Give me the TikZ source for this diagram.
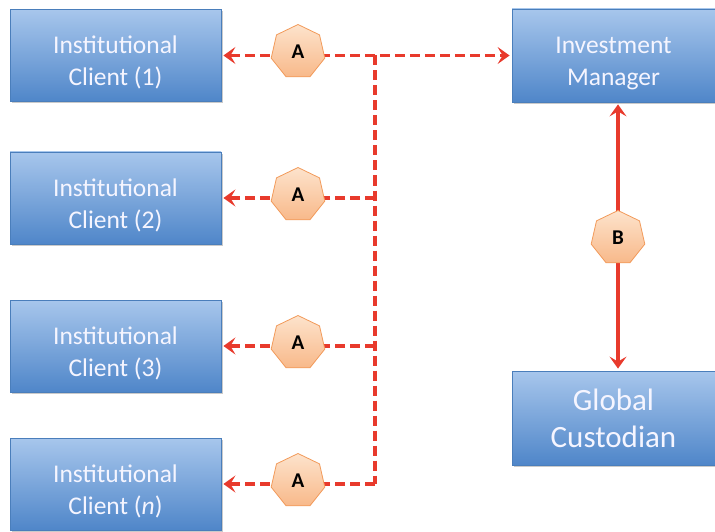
\documentclass[tikz,border=0pt]{standalone}
\usepackage{fontspec}
\setmainfont{Carlito}
\usetikzlibrary{shapes.geometric,arrows.meta,shadows,calc}
\definecolor{boxtop}{HTML}{A7C6EC}
\definecolor{boxbot}{HTML}{4F86C9}
\definecolor{boxedge}{HTML}{4A7EBB}
\definecolor{linkred}{HTML}{E83A2C}
\definecolor{tagtop}{HTML}{FDE3CC}
\definecolor{tagbot}{HTML}{F8B98A}
\definecolor{tagedge}{HTML}{F29A5A}
% invisible strut that sets the first text line a little lower in its box
\newcommand\padtop{\rule{0pt}{32pt}}
\tikzset{
  partybox/.style={draw=boxedge, line width=0.8pt, top color=boxtop, bottom color=boxbot,
    minimum width=211pt, minimum height=92pt, inner sep=0pt, align=center,
    text=white!96!blue,
    drop shadow={shadow xshift=1.5pt, shadow yshift=-2pt, opacity=0.35, fill=black!60}},
  party/.style={partybox, font=\fontsize{25.5}{32}\selectfont},
  bigparty/.style={partybox, minimum width=203pt, minimum height=94pt,
    font=\fontsize{31}{37}\selectfont},
  tag/.style={regular polygon, regular polygon sides=7, minimum size=55pt, inner sep=0pt,
    draw=tagedge, line width=0.8pt, top color=tagtop, bottom color=tagbot,
    font=\fontsize{21}{21}\selectfont\bfseries, text=black},
  dashlink/.style={draw=linkred, line width=3.6pt, dash pattern=on 10pt off 5pt},
  solidlink/.style={draw=linkred, line width=3.6pt},
  tip/.style={arrows={-{Stealth[length=12pt,width=17pt,inset=5pt]}}},
  tips/.style={arrows={{Stealth[length=12pt,width=17pt,inset=5pt]}-{Stealth[length=12pt,width=17pt,inset=5pt]}}}
}
\begin{document}
\begin{tikzpicture}[x=1pt,y=-1pt]
\useasboundingbox (0,0) rectangle (715,532);

% parties
\node[party] (c1) at (115.5,55.5) {\padtop Institutional\\Client (1)};
\node[party] (c2) at (115.5,198) {\padtop Institutional\\Client (2)};
\node[party] (c3) at (115.5,346) {\padtop Institutional\\Client (3)};
\node[party] (cn) at (115.5,484) {\padtop Institutional\\Client (\textit{n})};
\node[party, minimum width=203pt, minimum height=93pt] (im) at (613.5,55.5) {\padtop Investment\\Manager};
\node[bigparty] (gc) at (613.5,418) {Global\\Custodian};

% shared channel between the clients and the manager
\coordinate (j1) at (375,55.5);
\coordinate (jn) at (375,484);
\coordinate (j2) at (375,198);
\coordinate (j3) at (375,346);

\draw[dashlink, tips, shorten <=2pt, shorten >=2pt] (c1.east) -- (im.west);
\draw[dashlink] (j1) -- (jn);
\draw[dashlink, tip, shorten >=2pt] (j2) -- (c2.east);
\draw[dashlink, tip, shorten >=2pt] (j3) -- (c3.east);
\draw[dashlink, tip, shorten >=2pt] (jn) -- (cn.east);

% manager to custodian link
\coordinate (bx) at (618,238);
\draw[solidlink, tips, shorten <=2pt, shorten >=2pt] (im.south -| bx) -- (gc.north -| bx);

% channel tags
\node[tag] (a1) at (298,52) {A};
\node[tag] (a2) at (298,195) {A};
\node[tag] (a3) at (298,343) {A};
\node[tag] (an) at (298,481) {A};
\node[tag] (b) at (bx) {B};
\end{tikzpicture}
\end{document}
